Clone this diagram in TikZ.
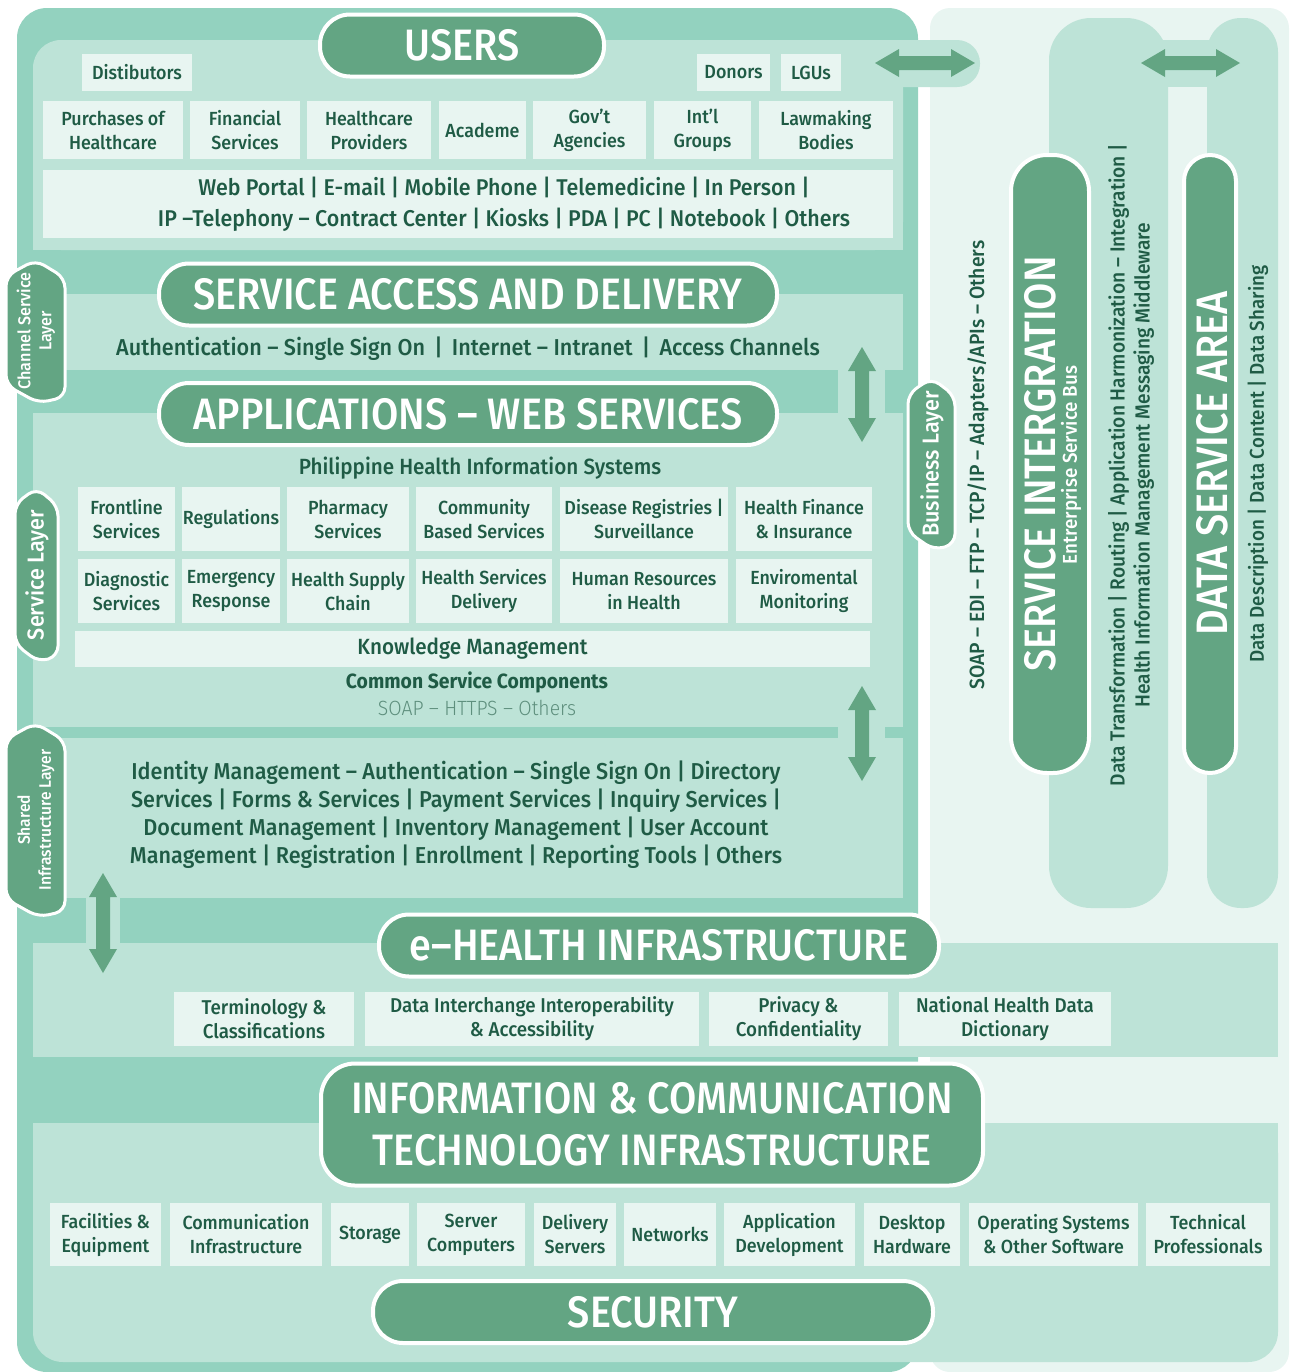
\documentclass[tikz,border=0pt]{standalone}
\usepackage{fontspec}
\setmainfont{Fira Sans}[UprightFont=* Medium, BoldFont=* Bold, FakeStretch=0.94]
\newfontfamily\titlefont{Fira Sans}[UprightFont=* Medium, FakeStretch=0.9]
\newfontfamily\lightfont{Fira Sans}[UprightFont=* Light, FakeStretch=0.94]

\definecolor{midteal}{HTML}{93D2BF}
\definecolor{liteteal}{HTML}{BDE3D7}
\definecolor{paleteal}{HTML}{E8F5F1}
\definecolor{pillgreen}{HTML}{63A583}
\definecolor{inkgreen}{HTML}{1F5B45}
\definecolor{softink}{HTML}{5E8F7D}

\tikzset{
  cellbox/.style={fill=paleteal, text=inkgreen, align=center, inner sep=0pt,
    font=\fontsize{9.5}{12}\selectfont},
  pill/.style={fill=pillgreen, draw=white, line width=2pt, text=white,
    rounded corners=15pt, inner sep=0pt, align=center},
  title/.style={font=\titlefont\fontsize{22}{26}\selectfont},
  tabshape/.style={fill=pillgreen, draw=white, line width=1.5pt, rounded corners=5pt},
  tabtext/.style={text=white, align=center, rotate=90, inner sep=0pt},
  vtext/.style={text=inkgreen, align=center, rotate=90, inner sep=0pt},
  midtext/.style={text=inkgreen, align=center, inner sep=0pt}
}

% box from corner to corner: name, x0, y0, x1, y1, text
\newcommand{\cell}[6]{%
  \node[cellbox, minimum width={(#4-#2)*0.5pt}, minimum height={(#5-#3)*0.5pt}]
    (#1) at ({(#2+#4)/2},{(#3+#5)/2}) {#6};}
% side tab: x0, y0, x1, y1
\newcommand{\sidetab}[4]{%
  \draw[tabshape] (#1,{#2+16}) -- ({(#1+#3)/2},#2) -- (#3,{#2+18}) -- (#3,{#4-6})
    -- ({#1+0.55*(#3-#1)},#4) -- (#1,{#4-18}) -- cycle;}
% fat double arrow, vertical: x, ytop, ybottom
\newcommand{\vdarrow}[3]{%
  \fill[pillgreen] (#1,#2) -- ({#1+14},{#2+24}) -- ({#1+7},{#2+24}) -- ({#1+7},{#3-24})
    -- ({#1+14},{#3-24}) -- (#1,#3) -- ({#1-14},{#3-24}) -- ({#1-7},{#3-24})
    -- ({#1-7},{#2+24}) -- ({#1-14},{#2+24}) -- cycle;}
% fat double arrow, horizontal: xleft, xright, y
\newcommand{\hdarrow}[3]{%
  \fill[pillgreen] (#1,#3) -- ({#1+24},{#3-14}) -- ({#1+24},{#3-7}) -- ({#2-24},{#3-7})
    -- ({#2-24},{#3-14}) -- (#2,#3) -- ({#2-24},{#3+14}) -- ({#2-24},{#3+7})
    -- ({#1+24},{#3+7}) -- ({#1+24},{#3+14}) -- cycle;}

\begin{document}
\begin{tikzpicture}[x=0.5pt, y=-0.5pt]
\useasboundingbox (0,0) rectangle (1290,1372);

% backgrounds
\fill[paleteal, rounded corners=10pt] (930,8) rectangle (1289,1372);
\fill[midteal, rounded corners=15pt] (17,8) rectangle (918,1372);

% right columns
\fill[liteteal, rounded corners=21pt] (1049,18) rectangle (1168,908);
\fill[liteteal, rounded corners=17pt] (1207,18) rectangle (1278,908);
\fill[liteteal] (1160,40) rectangle (1215,87);

% layer panels
\fill[liteteal, rounded corners=14pt] (33,40) rectangle (903,250);
\fill[liteteal] (90,40) rectangle (903,250);
\fill[liteteal] (33,90) rectangle (903,250);
\fill[liteteal, rounded corners=11.5pt] (850,40) rectangle (980,87);
\fill[liteteal] (33,294) rectangle (903,370);
\fill[liteteal] (33,413) rectangle (903,727);
\fill[liteteal] (33,738) rectangle (903,898);
\fill[liteteal] (33,943) rectangle (1278,1057);
\fill[liteteal, rounded corners=15pt] (33,1123) rectangle (1278,1362);
\fill[liteteal] (33,1123) rectangle (1278,1300);
% bridges under the arrows
\fill[liteteal] (838,365) rectangle (885,418);
\fill[liteteal] (838,722) rectangle (885,742);
\fill[liteteal] (86,893) rectangle (120,948);

% arrows
\hdarrow{875}{975}{63}
\hdarrow{1141}{1240}{63}
\vdarrow{862}{347}{442}
\vdarrow{862}{686}{781}
\vdarrow{103}{873}{973}

% users
\node[pill, minimum width=142pt, minimum height=31pt, font=\titlefont\fontsize{22}{26}\selectfont] (users) at (462,45.5) {USERS};
\cell{dist}{82}{54}{192}{91}{Distibutors}
\cell{donors}{697}{54}{770}{91}{Donors}
\cell{lgus}{781}{54}{841}{91}{LGUs}
\cell{purch}{43}{101}{183}{159}{Purchases of\\Healthcare}
\cell{finan}{190}{101}{300}{159}{Financial\\Services}
\cell{provid}{307}{101}{431}{159}{Healthcare\\Providers}
\cell{acad}{439}{101}{526}{159}{Academe}
\cell{govt}{533}{101}{646}{159}{Gov’t\\Agencies}
\cell{intl}{654}{101}{751}{159}{Int’l\\Groups}
\cell{lawmk}{759}{101}{893}{159}{Lawmaking\\Bodies}
\cell{chann}{43}{170}{893}{238}{}
\node[midtext, font=\fontsize{11.4}{15.5}\selectfont] (chantext) at (504,204) {Web Portal | E-mail | Mobile Phone | Telemedicine | In Person |\\
  IP –Telephony – Contract Center | Kiosks | PDA | PC | Notebook | Others};

% service access and delivery
\node[pill, title, minimum width=309pt, minimum height=31pt] (access) at (468,294.5) {SERVICE ACCESS AND DELIVERY};
\node[midtext, font=\fontsize{11.5}{14}\selectfont] (authline) at (468,349) {Authentication – Single Sign On \,|\, Internet – Intranet \,|\, Access Channels};

% applications
\node[pill, title, minimum width=309pt, minimum height=31pt] (apps) at (468,414) {APPLICATIONS – WEB SERVICES};
\node[midtext, font=\fontsize{11}{14}\selectfont] (phis) at (480,468) {Philippine Health Information Systems};
\cell{front}{78}{487}{175}{551}{Frontline\\Services}
\cell{regul}{182}{487}{280}{551}{Regulations}
\cell{pharm}{287}{487}{409}{551}{Pharmacy\\Services}
\cell{commu}{416}{487}{552}{551}{Community\\Based Services}
\cell{disea}{560}{487}{728}{551}{Disease Registries |\\Surveillance}
\cell{hfin}{736}{487}{872}{551}{Health Finance\\\& Insurance}
\cell{diagn}{78}{559}{175}{623}{Diagnostic\\Services}
\cell{emerg}{182}{559}{280}{623}{Emergency\\Response}
\cell{suppl}{287}{559}{409}{623}{Health Supply\\Chain}
\cell{hsdel}{416}{559}{552}{623}{Health Services\\Delivery}
\cell{hres}{560}{559}{728}{623}{Human Resources\\in Health}
\cell{envir}{736}{559}{872}{623}{Enviromental\\Monitoring}
\cell{knowl}{75}{631}{870}{667}{\fontsize{11}{12}\selectfont Knowledge Management}
\node[midtext, font=\bfseries\fontsize{10.3}{12}\selectfont] (common) at (477,682) {Common Service Components};
\node[midtext, text=softink, font=\lightfont\fontsize{10.3}{12}\selectfont] (soap) at (477,708) {SOAP – HTTPS – Others};

% shared infrastructure
\node[midtext, font=\fontsize{11.5}{14}\selectfont] (shared) at (456,815) {Identity Management – Authentication – Single Sign On | Directory\\
  Services | Forms \& Services | Payment Services | Inquiry Services |\\
  Document Management | Inventory Management | User Account\\
  Management | Registration | Enrollment | Reporting Tools | Others};

% e-health infrastructure
\node[pill, title, minimum width=280pt, minimum height=31pt] (ehealth) at (659,945.5) {e–HEALTH INFRASTRUCTURE};
\cell{termi}{174}{992}{354}{1046}{\fontsize{10}{12.5}\selectfont Terminology \&\\\fontsize{10}{12.5}\selectfont Classifications}
\cell{inter}{365}{992}{699}{1046}{\fontsize{10}{12.5}\selectfont Data Interchange Interoperability\\\fontsize{10}{12.5}\selectfont \& Accessibility}
\cell{priva}{709}{992}{888}{1046}{\fontsize{10}{12.5}\selectfont Privacy \&\\\fontsize{10}{12.5}\selectfont Confidentiality}
\cell{dicti}{899}{992}{1111}{1046}{\fontsize{10}{12.5}\selectfont National Health Data\\\fontsize{10}{12.5}\selectfont Dictionary}

% ict infrastructure
\node[pill, rounded corners=17pt, font=\titlefont\fontsize{22}{26}\selectfont, minimum width=331pt, minimum height=61pt] (ict) at (652,1124.5) {INFORMATION \& COMMUNICATION\\TECHNOLOGY INFRASTRUCTURE};
\cell{facil}{50}{1203}{161}{1266}{Facilities \&\\Equipment}
\cell{cominf}{170}{1203}{322}{1266}{Communication\\Infrastructure}
\cell{stora}{331}{1203}{409}{1266}{Storage}
\cell{servc}{417}{1203}{525}{1266}{Server\\Computers}
\cell{deliv}{534}{1203}{616}{1266}{Delivery\\Servers}
\cell{netw}{624}{1203}{716}{1266}{Networks}
\cell{appdev}{724}{1203}{855}{1266}{Application\\Development}
\cell{deskt}{864}{1203}{960}{1266}{Desktop\\Hardware}
\cell{opsys}{969}{1203}{1138}{1266}{Operating Systems\\\& Other Software}
\cell{techp}{1146}{1203}{1270}{1266}{Technical\\Professionals}

% security
\node[pill, title, minimum width=280pt, minimum height=31pt] (security) at (653,1312) {SECURITY};

% side tabs
\sidetab{6}{260}{65}{403}
\node[tabtext, font=\fontsize{8.6}{10.5}\selectfont] (chantab) at (36,331) {Channel Service\\Layer};
\sidetab{15}{488}{58}{662}
\node[tabtext, font=\fontsize{11.5}{13}\selectfont] (servtab) at (37,575) {Service Layer};
\sidetab{6}{723}{65}{917}
\node[tabtext, font=\fontsize{8.3}{10.5}\selectfont] (sharetab) at (36,820) {Shared\\Infrastructure Layer};
\sidetab{908}{378}{955}{550}
\node[tabtext, font=\fontsize{11.5}{12}\selectfont] (busitab) at (932,464) {Business Layer};

% right side
\node[vtext, font=\fontsize{10.3}{12}\selectfont] (proto) at (978,465) {SOAP – EDI – FTP – TCP/IP – Adapters/APIs – Others};
\node[pill, rounded corners=18pt, minimum width=39pt, minimum height=309pt] (sipill) at (1050,464) {};
\node[tabtext, font=\titlefont\fontsize{22}{26}\selectfont] (sititle) at (1040,464) {SERVICE INTERGRATION};
\node[tabtext, font=\fontsize{10}{11}\selectfont] (esb) at (1071,465) {Entrerprise Service Bus};
\node[vtext, font=\fontsize{10.2}{12.5}\selectfont] (transf) at (1131,465) {Data Transformation | Routing | Application Harmonization – Integration |\\
  Health Information Management Messaging Middleware};
\node[pill, rounded corners=13pt, minimum width=26pt, minimum height=309pt] (dspill) at (1210,464) {};
\node[tabtext, font=\titlefont\fontsize{22}{26}\selectfont] (dstitle) at (1212,463) {DATA SERVICE AREA};
\node[vtext, font=\fontsize{10}{12}\selectfont] (dataline) at (1258,464) {Data Description | Data Content | Data Sharing};
\end{tikzpicture}
\end{document}
